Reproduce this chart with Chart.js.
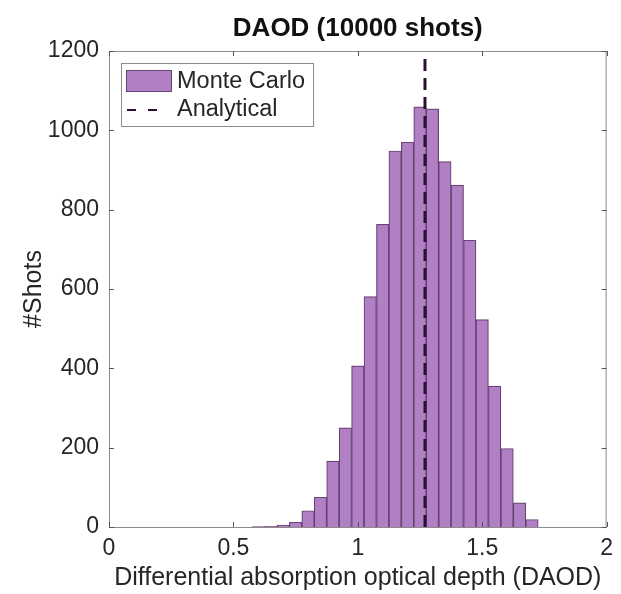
<!DOCTYPE html>
<html>
<head>
<meta charset="utf-8">
<title>DAOD histogram</title>
<script src="https://cdn.jsdelivr.net/npm/chart.js@4.4.1/dist/chart.umd.min.js"></script>
<style>
    html, body { margin: 0; padding: 0; background: #fff; }
</style>
</head>
<body>
<canvas id="daodChart" width="621" height="594"></canvas>
<script>
// Histogram bins (centres, width 0.05) and counts
const binCenters = [0.6, 0.65, 0.7, 0.75, 0.8, 0.85, 0.9, 0.95, 1.0, 1.05, 1.1, 1.15,
                    1.2, 1.25, 1.3, 1.35, 1.4, 1.45, 1.5, 1.55, 1.6, 1.65, 1.7];
const shotCounts = [1, 2, 5, 12, 41, 75, 166, 250, 406, 581, 763, 948,
                    970, 1059, 1054, 921, 862, 723, 523, 355, 198, 61, 19];
const analyticalDaod = 1.27;

const xTicks = [0, 0.5, 1, 1.5, 2];
const yTicks = [0, 200, 400, 600, 800, 1000, 1200];

const FONT = "'Liberation Sans', Arial, Helvetica, sans-serif";
const TEXT_COLOR = '#262626';
const FRAME_COLOR = '#8c8c8c';
const BAR_FILL = '#b17fc3';
const BAR_EDGE = '#674475';
const LINE_COLOR = '#2a1031';

// Box, inward ticks, title and legend drawn MATLAB-style
const matlabFrame = {
    id: 'matlabFrame',
    afterDatasetsDraw(chart) {
        const { ctx, chartArea: a, scales: { x, y } } = chart;
        ctx.save();
        ctx.strokeStyle = FRAME_COLOR;
        ctx.lineWidth = 1;
        ctx.strokeRect(a.left + 0.5, a.top + 0.5, a.right - a.left - 1, a.bottom - a.top);

        ctx.strokeStyle = '#555';
        ctx.beginPath();
        xTicks.forEach(v => {
            const px = Math.round(x.getPixelForValue(v)) + 0.5;
            ctx.moveTo(px, a.bottom); ctx.lineTo(px, a.bottom - 5);
            ctx.moveTo(px, a.top); ctx.lineTo(px, a.top + 5);
        });
        yTicks.forEach(v => {
            const py = Math.round(y.getPixelForValue(v)) + 0.5;
            ctx.moveTo(a.left, py); ctx.lineTo(a.left + 5, py);
            ctx.moveTo(a.right, py); ctx.lineTo(a.right - 5, py);
        });
        ctx.stroke();
        ctx.restore();
    },
    afterDraw(chart) {
        const { ctx, chartArea: a } = chart;
        ctx.save();
        // title, centred over the axes
        ctx.fillStyle = '#111';
        ctx.font = 'bold 26px ' + FONT;
        ctx.textAlign = 'center';
        ctx.textBaseline = 'middle';
        ctx.fillText('DAOD (10000 shots)', (a.left + a.right) / 2, 29);

        // legend box
        const lx = 121, ly = 63, lw = 192, lh = 63;
        ctx.fillStyle = '#fff';
        ctx.fillRect(lx, ly, lw, lh);
        ctx.strokeStyle = FRAME_COLOR;
        ctx.lineWidth = 1;
        ctx.strokeRect(lx + 0.5, ly + 0.5, lw, lh);

        ctx.fillStyle = BAR_FILL;
        ctx.fillRect(126, 70, 46, 22);
        ctx.strokeStyle = BAR_EDGE;
        ctx.strokeRect(126.5, 70.5, 45, 21);

        ctx.strokeStyle = LINE_COLOR;
        ctx.lineWidth = 2;
        ctx.setLineDash([9, 12]);
        ctx.beginPath();
        ctx.moveTo(127, 110); ctx.lineTo(160, 110);
        ctx.stroke();
        ctx.setLineDash([]);

        ctx.fillStyle = TEXT_COLOR;
        ctx.font = '23.5px ' + FONT;
        ctx.textAlign = 'left';
        ctx.fillText('Monte Carlo', 177, 82);
        ctx.fillText('Analytical', 177, 110);
        ctx.restore();
    }
};

new Chart(document.getElementById('daodChart'), {
    type: 'bar',
    data: {
        datasets: [
            {
                type: 'bar',
                label: 'Monte Carlo',
                data: binCenters.map((c, i) => ({ x: c, y: shotCounts[i] })),
                backgroundColor: BAR_FILL,
                borderColor: BAR_EDGE,
                borderWidth: 1.2,
                barPercentage: 1,
                categoryPercentage: 1,
                order: 2
            },
            {
                type: 'line',
                label: 'Analytical',
                data: [{ x: analyticalDaod, y: 0 }, { x: analyticalDaod, y: 1200 }],
                borderColor: LINE_COLOR,
                borderWidth: 3,
                borderDash: [12, 7],
                pointRadius: 0,
                fill: false,
                order: 1
            }
        ]
    },
    options: {
        responsive: false,
        animation: false,
        layout: { padding: { top: 51, right: 14, left: 0, bottom: 0 } },
        scales: {
            x: {
                type: 'linear',
                min: 0,
                max: 2,
                offset: false,
                afterBuildTicks: s => { s.ticks = xTicks.map(v => ({ value: v })); },
                afterFit: s => { s.height = 67; },
                grid: { display: false, drawTicks: false },
                border: { display: false },
                ticks: {
                    color: TEXT_COLOR,
                    font: { family: FONT, size: 23 },
                    padding: 8,
                    maxRotation: 0,
                    callback: v => String(v)
                },
                title: {
                    display: true,
                    text: 'Differential absorption optical depth (DAOD)',
                    color: TEXT_COLOR,
                    font: { family: FONT, size: 25 },
                    padding: { top: 0, bottom: 1 }
                }
            },
            y: {
                min: 0,
                max: 1200,
                afterBuildTicks: s => { s.ticks = yTicks.map(v => ({ value: v })); },
                afterFit: s => { s.width = 109; },
                grid: { display: false, drawTicks: false },
                border: { display: false },
                ticks: {
                    color: TEXT_COLOR,
                    font: { family: FONT, size: 23 },
                    padding: 10,
                    callback: v => String(v)
                },
                title: {
                    display: true,
                    text: '#Shots',
                    color: TEXT_COLOR,
                    font: { family: FONT, size: 25 },
                    padding: { top: 19, bottom: 0 }
                }
            }
        },
        plugins: {
            legend: { display: false },
            tooltip: { enabled: false }
        }
    },
    plugins: [matlabFrame]
});
</script>
</body>
</html>
